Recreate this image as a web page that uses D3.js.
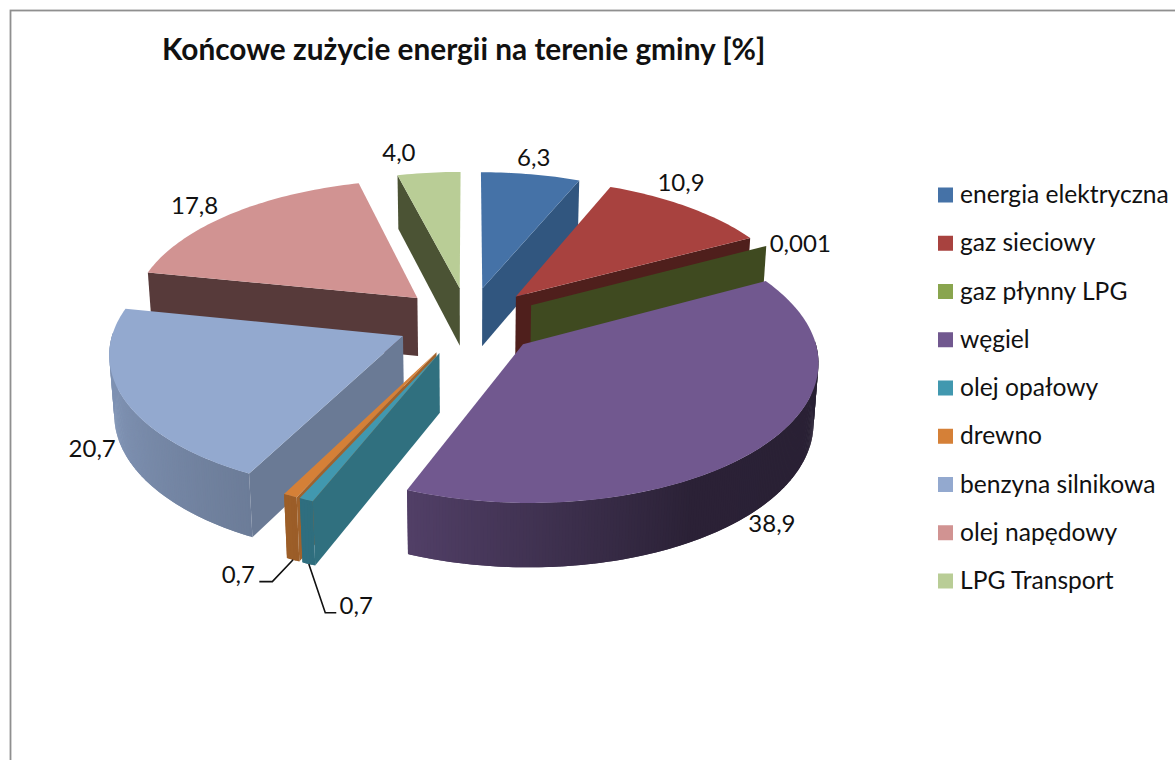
<!DOCTYPE html>
<html>
<head>
<meta charset="utf-8">
<script src="https://cdn.jsdelivr.net/npm/d3@7"></script>
<style>
  html, body { margin: 0; padding: 0; background: #fff; }
  svg { display: block; }
  text { font-family: Lato, "Open Sans", sans-serif; fill: #111; }
</style>
</head>
<body>
<svg id="chart" width="1175" height="760"></svg>
<script>
'use strict';

const categories = ['energia elektryczna', 'gaz sieciowy', 'gaz płynny LPG', 'węgiel', 'olej opałowy',
    'drewno', 'benzyna silnikowa', 'olej napędowy', 'LPG Transport'];
const values = [6.3, 10.9, 0.001, 38.9, 0.7, 0.7, 20.7, 17.8, 4.0];
const valueLabels = ['6,3', '10,9', '0,001', '38,9', '0,7', '0,7', '20,7', '17,8', '4,0'];

const topColors = ['#4572a7', '#a8423f', '#89a54e', '#71588f', '#4198af', '#d58037', '#93a9cf', '#d19392', '#b9cd96'];
const sideColors = ['#31567f', '#4f1f1c', '#3f4a20', '#71588f', '#30707f', '#a0622c', '#6a7a95', '#573a3a', '#4b5334'];

// nudges of the data labels from the rim
const labelNudge = [[3, -17], [-7, -24], [34, -2], [9, 78], [50, 106], [-52, 79], [-32, 49], [-36, -9], [-30, -20]];

const svg = d3.select('#chart');
const width = +svg.attr('width');
const height = +svg.attr('height');

// camera for the tilted pie
const cx = 468.5, cy = 321, radius = 287.5, explode = 0.25, thickness = 0.235;
const tilt = 28.2 * Math.PI / 180, dist = 8;

function project(x, y, z) {
    let yv = y * Math.sin(tilt) + z * Math.cos(tilt);
    let zv = y * Math.cos(tilt) - z * Math.sin(tilt);
    let p = dist / (dist + zv);
    return [cx + radius * x * p, cy - radius * yv * p];
}

function polygon(points) {
    return d3.line()(points) + 'Z';
}

// darker toward the right hand side of the round wall
let wallShade = d3.scaleLinear().domain([90, 150, 202, 250]).range([0.36, 0.38, 0.72, 0.86]).clamp(true);

svg.append('rect')
    .attr('x', 10.5).attr('y', 10.5)
    .attr('width', width).attr('height', height)
    .attr('fill', 'none').attr('stroke', '#8f8f8f').attr('stroke-width', 1.8);

svg.append('text')
    .attr('x', 162).attr('y', 60)
    .attr('font-size', 29.8).attr('font-weight', 700)
    .text('Końcowe zużycie energii na terenie gminy [%]');

let pie = d3.pie().sort(null).startAngle(0).endAngle(2 * Math.PI);
let slices = pie(values).map((d, i) => {
    let mid = (d.startAngle + d.endAngle) / 2;
    return {
        i: i,
        a0: d.startAngle,
        a1: d.endAngle,
        mid: mid,
        ox: explode * Math.sin(mid),
        oy: explode * Math.cos(mid)
    };
});

function rimPoint(s, a, z) {
    return project(s.ox + Math.sin(a), s.oy + Math.cos(a), z);
}

function rimArc(s, z) {
    let n = Math.max(2, Math.ceil((s.a1 - s.a0) / 0.02));
    return d3.range(n + 1).map(k => rimPoint(s, s.a0 + (s.a1 - s.a0) * k / n, z));
}

// back to front
let order = slices.slice().sort((a, b) => d3.descending(Math.cos(a.mid), Math.cos(b.mid)));

let pieGroup = svg.append('g').attr('class', 'pie');

order.forEach(s => {
    let g = pieGroup.append('g');
    let apexTop = project(s.ox, s.oy, 0);
    let apexBottom = project(s.ox, s.oy, -thickness);

    // radial faces that look at the camera
    if (Math.sin(s.a0) < 0) {
        g.append('path')
            .attr('d', polygon([apexTop, rimPoint(s, s.a0, 0), rimPoint(s, s.a0, -thickness), apexBottom]))
            .attr('fill', sideColors[s.i]);
    }
    if (Math.sin(s.a1) > 0) {
        g.append('path')
            .attr('d', polygon([apexTop, rimPoint(s, s.a1, 0), rimPoint(s, s.a1, -thickness), apexBottom]))
            .attr('fill', sideColors[s.i]);
    }

    // round wall, short strips for the shading, each one lapping under the next
    let step = 0.01;
    let base = d3.color(topColors[s.i]);
    for (let a = s.a0; a < s.a1; a += step) {
        let b = Math.min(a + step * 2, s.a1);
        if (Math.cos(a + step / 2) > 0.02) continue;
        let f = wallShade((a + step / 2) * 180 / Math.PI);
        g.append('path')
            .attr('d', polygon([rimPoint(s, a, 0), rimPoint(s, b, 0), rimPoint(s, b, -thickness), rimPoint(s, a, -thickness)]))
            .attr('fill', d3.rgb(base.r * f, base.g * f, base.b * f));
    }

    g.append('path')
        .attr('d', polygon([apexTop].concat(rimArc(s, 0))))
        .attr('fill', topColors[s.i]);
});

// data labels
let labelGroup = svg.append('g').attr('class', 'labels');
let labelPos = slices.map(s => {
    let rim = rimPoint(s, s.mid, 0);
    return [rim[0] + labelNudge[s.i][0], rim[1] + labelNudge[s.i][1]];
});
slices.forEach(s => {
    labelGroup.append('text')
        .attr('x', labelPos[s.i][0])
        .attr('y', labelPos[s.i][1])
        .attr('dy', '0.35em')
        .attr('text-anchor', 'middle')
        .attr('font-size', 24)
        .text(valueLabels[s.i]);
});

// leader lines of the two small slices
[[4, -31, -20], [5, 34, 21]].forEach(([i, elbow, tip]) => {
    let start = rimPoint(slices[i], slices[i].mid, -thickness);
    let y = labelPos[i][1] + 7;
    labelGroup.append('path')
        .attr('d', d3.line()([start, [labelPos[i][0] + elbow, y], [labelPos[i][0] + tip, y]]))
        .attr('fill', 'none').attr('stroke', '#111').attr('stroke-width', 1.6);
});

// legend
let legendY = d3.scalePoint().domain(categories).range([195, 581]);
let legend = svg.append('g').attr('class', 'legend')
    .selectAll('g').data(categories).enter().append('g')
    .attr('transform', d => 'translate(938,' + legendY(d) + ')');
legend.append('rect')
    .attr('y', -7.5).attr('width', 15).attr('height', 15)
    .attr('fill', (d, i) => topColors[i]);
legend.append('text')
    .attr('x', 22).attr('y', 8)
    .attr('font-size', 24.6)
    .text(d => d);
</script>
</body>
</html>
